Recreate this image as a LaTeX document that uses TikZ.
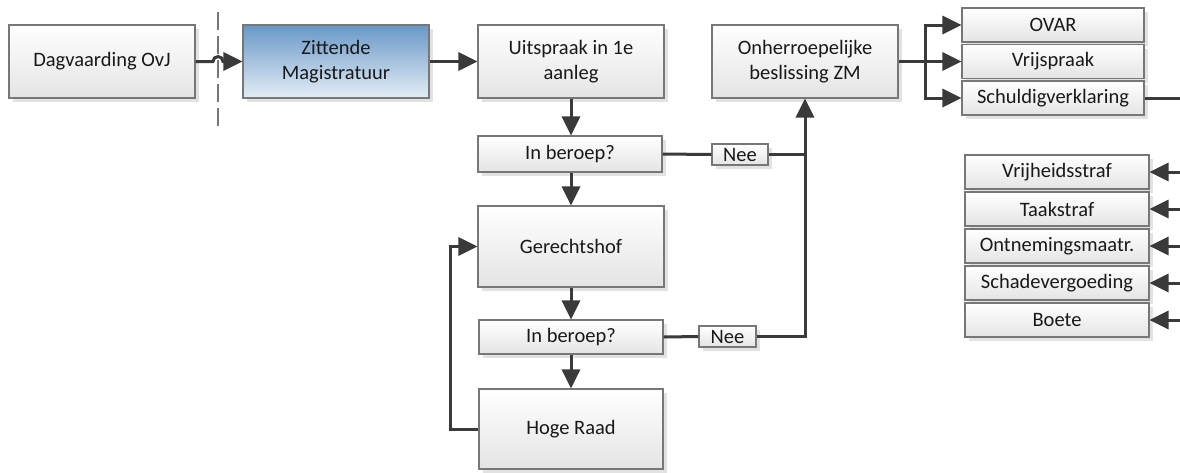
\documentclass[tikz,border=0pt]{standalone}
\usepackage{fontspec}
\setmainfont{Carlito}
\usetikzlibrary{arrows.meta,shadows}
\definecolor{wire}{HTML}{3A3A3A}
\definecolor{frame}{HTML}{777777}
\definecolor{shade}{HTML}{E2E2E2}
\definecolor{blueTop}{RGB}{104,152,199}
\definecolor{blueBot}{RGB}{228,237,246}
\definecolor{grayBot}{HTML}{E4E4E4}
\tikzset{
  box/.style={draw=frame, line width=1.1pt, top color=white, bottom color=grayBot,
    inner sep=0pt, align=center, text=black!90, font=\fontsize{20.5}{25}\selectfont,
    drop shadow={shadow xshift=4pt, shadow yshift=-4pt, fill=shade, opacity=1}},
  bluebox/.style={box, top color=blueTop, bottom color=blueBot},
  link/.style={draw=wire, line width=3pt},
  arr/.style={link, -{Triangle[length=19pt,width=18pt]}},
}
\begin{document}
\begin{tikzpicture}[x=1pt,y=-1pt]
\useasboundingbox (0,0) rectangle (1180,472);

% main row
\node[box, minimum width=186pt, minimum height=73pt] (dag) at (102,61.5) {Dagvaarding OvJ};
\node[bluebox, minimum width=186pt, minimum height=73pt] (zit) at (336,61.5) {Zittende\\Magistratuur};
\node[box, minimum width=186pt, minimum height=73pt] (uit) at (571,61.5) {Uitspraak in 1e\\aanleg};
\node[box, minimum width=186pt, minimum height=73pt] (onh) at (805,61.5) {Onherroepelijke\\beslissing ZM};

% outcomes
\node[box, minimum width=182pt, minimum height=34pt] (ovar) at (1053,25) {OVAR};
\node[box, minimum width=182pt, minimum height=34pt] (vrij) at (1053,61.5) {Vrijspraak};
\node[box, minimum width=182pt, minimum height=34pt] (schuld) at (1053,98) {Schuldigverklaring};

% sanctions
\node[box, minimum width=184pt, minimum height=34pt] (p1) at (1057,172) {Vrijheidsstraf};
\node[box, minimum width=184pt, minimum height=34pt] (p2) at (1057,209) {Taakstraf};
\node[box, minimum width=184pt, minimum height=34pt] (p3) at (1057,246) {Ontnemingsmaatr.};
\node[box, minimum width=184pt, minimum height=34pt] (p4) at (1057,283) {Schadevergoeding};
\node[box, minimum width=184pt, minimum height=34pt] (p5) at (1057,320) {Boete};

% appeal chain
\node[box, minimum width=184pt, minimum height=36pt] (ib1) at (570,154) {In beroep?};
\node[box, minimum width=186pt, minimum height=81pt] (gh) at (571,246.5) {Gerechtshof};
\node[box, minimum width=184pt, minimum height=34pt] (ib2) at (571,337) {In beroep?};
\node[box, minimum width=184pt, minimum height=80pt] (hr) at (571,429) {Hoge Raad};
\node[box, minimum width=56pt, minimum height=21pt] (nee1) at (740,154.5) {Nee};
\node[box, minimum width=57pt, minimum height=21pt] (nee2) at (727.5,336.5) {Nee};

% separator between OvJ and ZM
\draw[frame, line width=2pt, dash pattern=on 18pt off 6pt] (218,12) -- (218,126);

% connectors
\coordinate (hop) at (218,61.5);
\draw[arr] (dag.east) -- ([xshift=-5pt]hop) arc (180:360:5) -- (zit.west);
\draw[arr] (zit.east) -- (uit.west);
\draw[arr] (uit.south) -- (uit.south |- ib1.north);
\draw[arr] (ib1.south -| uit.south) -- (gh.north);
\draw[arr] (gh.south) -- (ib2.north);
\draw[arr] (ib2.south) -- (hr.north);
\draw[link] (ib1.east) -- (nee1.west);
\draw[arr] (nee1.east) -| (onh.south);
\draw[link] (ib2.east) -- (nee2.west);
\draw[link] (nee2.east) -| (onh.south |- nee1.east);
\draw[arr] (hr.west) -- ++(-28,0) |- (gh.west);

\coordinate (split) at (925,61.5);
\draw[link] (onh.east) -- (split);
\draw[arr] (split) |- (ovar.west);
\draw[arr] (split) -- (vrij.west);
\draw[arr] (split) |- (schuld.west);

\coordinate (out) at (1181,98);
\draw[link] (schuld.east) -- (out);
\foreach \p in {p1,p2,p3,p4,p5}{
  \coordinate (\p src) at (1181,0 |- \p.east);
  \draw[arr] (\p src) -- (\p.east);
}
\end{tikzpicture}
\end{document}
